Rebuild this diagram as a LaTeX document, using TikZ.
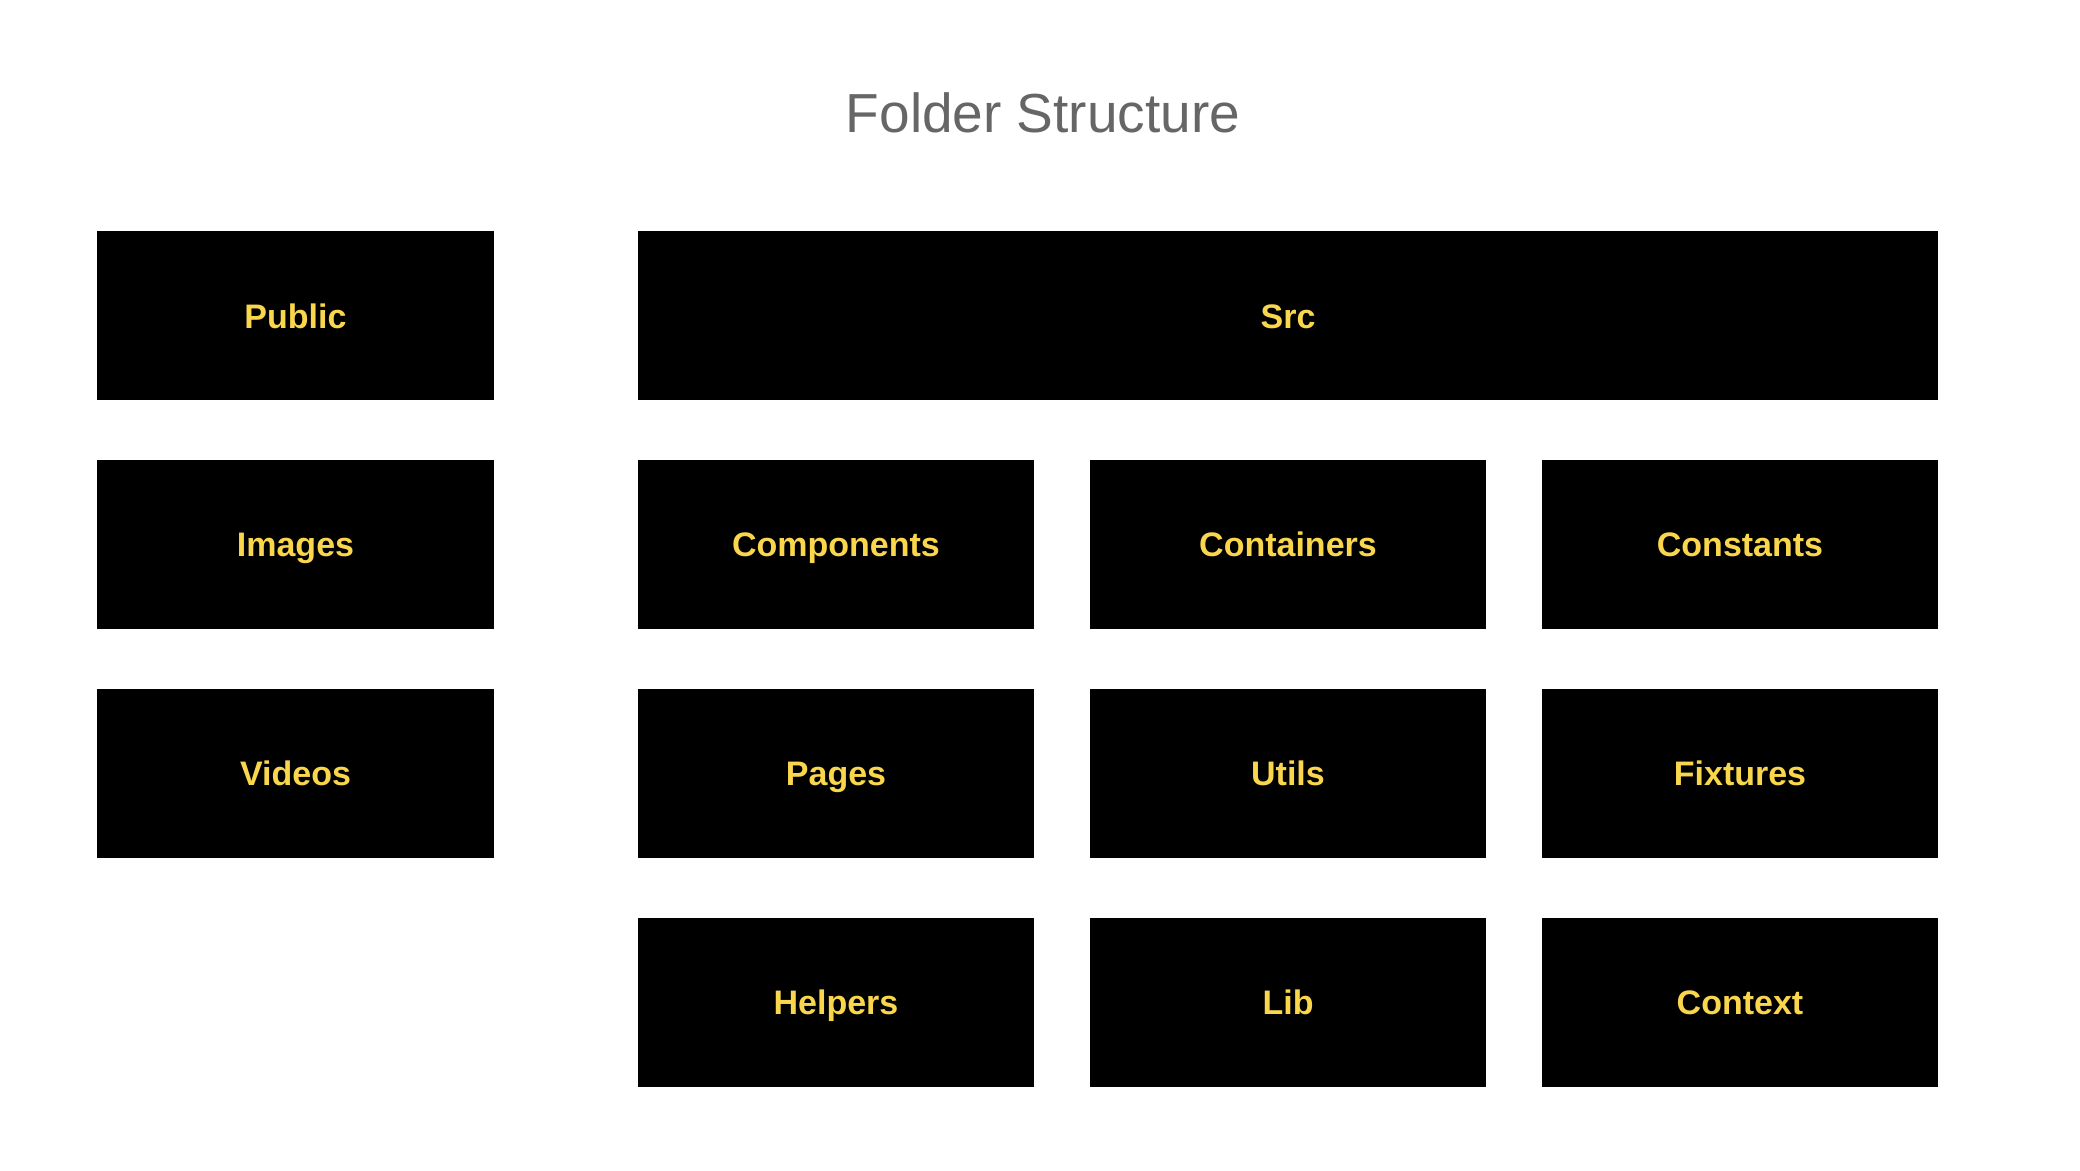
\documentclass[tikz,border=0pt]{standalone}
\usepackage{fontspec}
\setmainfont{Liberation Sans}
\definecolor{titlegray}{HTML}{666666}
\definecolor{labelyellow}{HTML}{F9D64C}
\begin{document}
\begin{tikzpicture}[x=1pt,y=-1pt,
  folder/.style={fill=black, draw=none, minimum width=396pt, minimum height=169pt, inner sep=0pt,
    text=labelyellow, font=\fontsize{34pt}{40pt}\selectfont\bfseries, text height=25pt, text depth=0pt},
  titletext/.style={text=titlegray, font=\fontsize{55pt}{64pt}\selectfont, inner sep=0pt, text height=40pt, text depth=0pt}]
\useasboundingbox[fill=white] (0,0) rectangle (2080,1170);
\node[titletext] (title) at (1043,112) {Folder Structure};
\node[folder, minimum width=397pt] (public) at (295.5,315.5) {Public};
\node[folder, minimum width=397pt] (images) at (295.5,544) {Images};
\node[folder, minimum width=397pt] (videos) at (295.5,773) {Videos};
\node[folder, minimum width=1300pt] (src) at (1288,315.5) {Src};
\node[folder] (components) at (836,544) {Components};
\node[folder] (containers) at (1288,544) {Containers};
\node[folder] (constants) at (1740,544) {Constants};
\node[folder] (pages) at (836,773) {Pages};
\node[folder] (utils) at (1288,773) {Utils};
\node[folder] (fixtures) at (1740,773) {Fixtures};
\node[folder] (helpers) at (836,1002) {Helpers};
\node[folder] (lib) at (1288,1002) {Lib};
\node[folder] (context) at (1740,1002) {Context};
\end{tikzpicture}
\end{document}
